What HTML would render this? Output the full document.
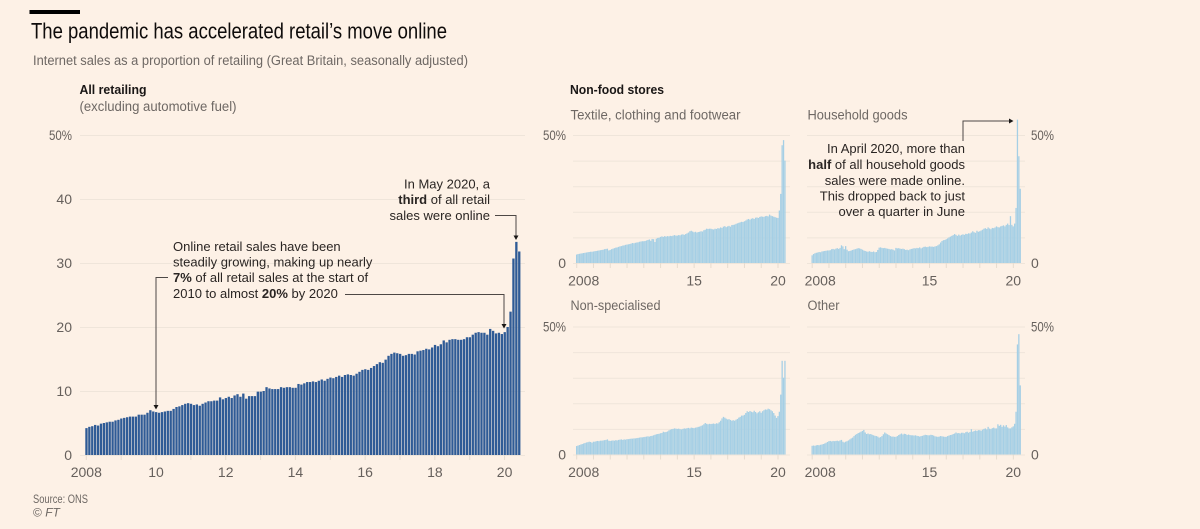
<!DOCTYPE html>
<html lang="en">
<head>
<meta charset="utf-8">
<title>The pandemic has accelerated retail's move online</title>
<style>
html,body{margin:0;padding:0;background:#fdf1e6;width:1200px;height:529px;overflow:hidden}
svg{display:block;font-family:"Liberation Sans",Arial,sans-serif}
.tick{fill:#66605c;font-size:14px}
.head{fill:#1a1716;font-size:13px;font-weight:bold}
.sub{fill:#6e6864;font-size:13.5px}
.note{fill:#2a2523;font-size:13px}
.grid{stroke:#efe5da;stroke-width:1}
.axis-tick{stroke:#e6dccf;stroke-width:1}
.leader{stroke:#4d4845;stroke-width:1;fill:none}
</style>
</head>
<body>
<svg id="chart" width="1200" height="529" viewBox="0 0 1200 529" xmlns="http://www.w3.org/2000/svg">
  <rect x="29.5" y="10" width="50.5" height="4" fill="#000"/>
  <text x="31" y="38.5" font-size="22.5" fill="#0f0c0b" textLength="416" lengthAdjust="spacingAndGlyphs">The pandemic has accelerated retail’s move online</text>
  <text x="33" y="65" font-size="13.5" fill="#6e6864" textLength="435" lengthAdjust="spacingAndGlyphs">Internet sales as a proportion of retailing (Great Britain, seasonally adjusted)</text>

  <text class="head" x="79.5" y="94" textLength="67" lengthAdjust="spacingAndGlyphs">All retailing</text>
  <text class="sub" x="79.5" y="111" textLength="157" lengthAdjust="spacingAndGlyphs">(excluding automotive fuel)</text>
  <text class="head" x="570" y="94" textLength="94" lengthAdjust="spacingAndGlyphs">Non-food stores</text>
  <text class="sub" x="570.5" y="119.5" textLength="170" lengthAdjust="spacingAndGlyphs">Textile, clothing and footwear</text>
  <text class="sub" x="807.5" y="119.5" textLength="100" lengthAdjust="spacingAndGlyphs">Household goods</text>
  <text class="sub" x="570.5" y="310" textLength="90" lengthAdjust="spacingAndGlyphs">Non-specialised</text>
  <text class="sub" x="807.5" y="310" textLength="32" lengthAdjust="spacingAndGlyphs">Other</text>

  <g id="plots"></g>

  <g>
    <text class="note" text-anchor="end" x="490" y="188.5">In May 2020, a</text>
    <text class="note" text-anchor="end" x="490" y="204"><tspan font-weight="bold">third</tspan> of all retail</text>
    <text class="note" text-anchor="end" x="490" y="220">sales were online</text>
    <path class="leader" d="M495 215.5H516V236"/>
    <path d="M513.5 235.5h5l-2.5 4.5z" fill="#1a1716"/>
  </g>
  <g>
    <text class="note" x="173" y="251">Online retail sales have been</text>
    <text class="note" x="173" y="266.500">steadily growing, making up nearly</text>
    <text class="note" x="173" y="282"><tspan font-weight="bold">7%</tspan> of all retail sales at the start of</text>
    <text class="note" x="173" y="298">2010 to almost <tspan font-weight="bold">20%</tspan> by 2020</text>
    <path class="leader" d="M168 277.500H156V405"/>
    <path d="M153.500 405h5l-2.500 4.500z" fill="#1a1716"/>
    <path class="leader" d="M345 294.500H504V324"/>
    <path d="M501.500 324h5l-2.500 4.500z" fill="#1a1716"/>
  </g>
  <g>
    <text class="note" text-anchor="end" x="965" y="153">In April 2020, more than</text>
    <text class="note" text-anchor="end" x="965" y="169"><tspan font-weight="bold">half</tspan> of all household goods</text>
    <text class="note" text-anchor="end" x="965" y="185">sales were made online.</text>
    <text class="note" text-anchor="end" x="965" y="200.500">This dropped back to just</text>
    <text class="note" text-anchor="end" x="965" y="216">over a quarter in June</text>
    <path class="leader" d="M963 141V121H1009"/>
    <path d="M1009 118.500v5l4.500-2.500z" fill="#1a1716"/>
  </g>

  <text x="33" y="503" font-size="12" fill="#6e6864" textLength="55" lengthAdjust="spacingAndGlyphs">Source: ONS</text>
  <text x="33" y="516.500" font-size="12" fill="#6e6864">© <tspan font-style="italic">FT</tspan></text>
</svg>
<script>
// Monthly values, Jan 2008 to Jun 2020 (% of retail sales made online)
const allRetailing = [
4.2,4.4,4.5,4.7,4.6,4.9,5.0,5.1,5.2,5.2,5.4,5.5,
5.7,5.8,5.9,6.0,6.0,6.0,6.3,6.3,6.3,6.6,7.0,6.8,
6.7,6.6,6.7,6.8,6.9,6.9,7.2,7.5,7.6,7.8,8.0,8.1,
8.0,7.8,7.9,7.7,8.0,8.2,8.4,8.4,8.5,8.5,9.0,8.7,
8.9,9.1,8.9,9.3,9.5,9.1,9.6,8.8,9.2,9.2,9.2,9.9,
9.9,10.0,10.6,10.4,10.3,10.3,10.3,10.6,10.5,10.6,10.6,10.5,
10.5,11.1,11.0,11.2,11.4,11.4,11.5,11.4,11.6,11.8,11.6,11.9,
12.1,12.0,12.2,12.4,12.2,12.5,12.6,12.5,12.4,12.7,13.0,13.3,
13.4,13.3,13.6,13.9,14.2,14.5,14.4,14.9,15.5,15.8,16.0,15.9,
15.8,15.5,15.6,15.8,15.8,15.7,16.2,16.3,16.4,16.6,16.5,16.8,
17.2,17.0,17.3,17.9,17.6,18.0,18.1,18.1,18.0,18.0,18.1,18.4,
18.4,18.8,19.1,19.2,19.1,19.1,18.8,19.7,19.4,19.0,19.1,18.9,
19.2,20.0,22.4,30.7,33.3,31.8];
const textile = [
3.3,3.5,3.6,3.7,3.8,3.9,4.0,4.1,4.2,4.3,4.4,4.4,
4.5,4.6,4.7,4.8,4.9,5.0,5.1,5.2,5.4,5.5,5.6,4.9,
5.1,5.4,5.6,5.8,6.0,6.1,6.3,6.5,6.6,6.8,6.9,7.1,
7.2,7.3,7.4,7.6,7.8,7.7,7.9,8.0,8.1,8.3,8.4,8.5,
8.5,8.6,8.8,9.0,9.2,8.7,9.4,9.3,8.2,9.5,9.8,9.9,
10.2,10.4,10.2,10.5,10.3,10.5,10.4,10.6,10.5,10.7,10.9,10.7,
10.7,10.9,10.8,11.1,11.2,11.0,11.3,11.6,11.9,12.4,12.6,12.3,
12.0,12.2,11.9,12.1,12.2,12.4,12.3,12.8,13.0,13.4,13.3,13.4,
13.4,13.2,13.1,13.4,13.3,13.6,13.5,13.9,13.7,14.2,14.4,14.0,
14.3,14.5,14.2,14.8,14.9,15.0,15.3,15.5,15.7,15.9,16.1,16.0,
16.3,16.6,17.0,17.2,16.9,17.3,17.5,17.2,17.7,17.8,17.6,18.0,
18.2,18.1,18.0,18.3,18.4,18.2,18.9,18.5,18.3,18.1,17.9,17.7,
17.6,20.5,27.0,46.0,48.0,40.0];
const household = [
3.0,3.5,3.8,4.0,4.1,4.3,4.2,4.5,4.6,4.7,4.8,4.9,
4.9,5.0,5.4,5.5,5.3,5.6,5.8,5.5,5.9,6.9,6.5,5.4,
6.6,5.2,4.6,4.7,4.9,5.1,5.3,5.4,5.6,5.8,5.7,5.5,
5.2,4.9,4.7,4.5,4.4,4.6,4.4,4.3,4.5,4.2,4.3,5.1,
6.0,6.1,5.9,5.8,5.9,5.7,5.6,5.5,5.3,5.4,5.2,4.9,
5.9,5.7,5.8,5.6,5.5,5.6,5.4,5.1,5.2,5.0,5.3,5.5,
5.6,5.8,5.7,5.9,5.8,6.1,5.7,6.0,6.3,6.4,6.2,6.3,
6.5,6.4,6.4,6.3,6.5,6.6,6.9,7.3,8.0,8.6,8.9,9.0,
9.3,9.6,10.0,10.3,10.6,10.9,11.3,11.0,10.6,11.1,10.7,11.0,
11.2,11.0,11.4,11.3,11.6,11.5,11.9,12.4,12.0,11.8,12.6,12.2,
12.4,12.7,13.0,13.4,13.6,13.3,13.9,13.5,13.2,13.7,13.6,13.9,
14.3,14.0,13.9,14.3,14.5,14.7,14.3,14.9,15.4,14.8,18.3,14.9,
14.3,15.4,21.5,56.0,41.7,29.0];
const nonSpecialised = [
3.3,3.5,3.7,3.9,4.1,4.3,4.5,4.7,4.8,5.0,4.9,4.6,
5.0,5.0,5.2,5.3,5.2,5.4,5.4,5.5,5.6,5.7,5.9,5.4,
5.3,5.4,5.5,5.4,5.6,5.5,5.7,5.8,5.9,5.7,5.9,5.8,
6.0,6.0,6.1,6.2,6.2,6.3,6.3,6.4,6.5,6.6,6.7,6.7,
6.8,6.9,7.0,7.1,7.0,7.2,7.3,7.5,7.7,7.9,8.0,8.1,
8.3,8.4,8.9,8.7,8.8,9.0,9.4,9.7,9.9,10.0,10.2,10.1,
10.0,10.1,9.9,9.8,10.0,10.2,10.1,10.3,10.4,10.2,10.5,10.4,
10.3,10.5,10.6,10.8,10.9,11.2,11.4,11.8,12.3,12.0,11.8,12.0,
11.9,12.0,12.1,11.9,12.2,12.1,12.6,13.2,14.1,14.7,14.4,14.0,
13.7,13.8,13.5,13.2,13.4,13.2,13.6,13.9,14.4,14.7,15.2,15.2,
15.5,16.2,16.9,16.6,17.0,16.7,16.5,17.1,16.6,16.1,16.5,16.9,
16.3,16.9,17.3,17.6,17.5,17.9,17.7,17.3,16.9,16.2,15.2,14.3,
15.0,16.7,23.4,36.6,30.0,36.6];
const otherStores = [
3.4,3.5,3.4,3.6,3.7,3.6,3.8,3.9,4.1,4.3,4.6,4.9,
5.2,5.3,5.1,5.3,5.2,5.3,5.4,5.2,5.5,5.7,5.0,4.7,
5.0,5.2,5.5,5.9,6.3,6.6,7.2,7.7,8.0,8.4,8.6,8.9,
9.2,9.6,8.6,8.0,8.2,7.9,8.0,7.7,7.5,7.3,7.2,7.0,
6.6,6.8,7.2,7.9,8.6,8.2,7.9,7.6,7.2,7.0,7.0,6.9,
6.9,7.2,7.6,7.9,8.2,7.8,8.1,8.0,7.6,7.8,7.6,7.5,
7.5,7.4,7.5,7.3,7.2,7.0,7.2,7.3,7.5,7.7,7.6,7.5,
7.5,7.7,7.6,7.4,7.1,7.0,6.9,7.0,7.2,7.1,7.0,6.9,
6.9,7.2,7.4,7.6,7.7,8.0,8.2,8.6,8.3,8.4,8.2,8.5,
8.5,8.3,8.7,8.9,8.5,8.8,9.9,8.9,9.2,9.4,9.2,9.5,
9.5,9.3,9.7,10.0,10.2,9.8,10.8,10.1,9.9,10.3,10.5,10.2,
10.2,11.8,11.2,11.6,10.8,11.4,10.9,11.5,10.6,10.2,10.2,10.6,
11.0,12.0,16.7,43.0,47.0,27.0];
const yTicksMain = [0,10,20,30,40,50];
const yGridSmall = [0,10,20,30,40,50];
const yLabelsSmall = [0,50];
const xTickYears = [2008,2009,2010,2011,2012,2013,2014,2015,2016,2017,2018,2019,2020];
const xLabelYearsMain = [2008,2010,2012,2014,2016,2018,2020];
const xLabelYearsSmall = [2008,2015,2020];

const svgNS = 'http://www.w3.org/2000/svg';
const plots = document.getElementById('plots');

function linear(d0, d1, r0, r1) {
  return function (v) { return r0 + (v - d0) * (r1 - r0) / (d1 - d0); };
}
function make(tag, attrs, parent) {
  const el = document.createElementNS(svgNS, tag);
  for (const k in attrs) el.setAttribute(k, attrs[k]);
  parent.appendChild(el);
  return el;
}
function yearLabel(y, i) {
  return i === 0 ? String(y) : String(y).slice(2);
}
function drawPanel(cfg) {
  const g = make('g', {}, plots);
  
  
  // x scale maps months since Jan 2008 to the bar's left edge
  const x = linear(0, 150, cfg.xStart, cfg.xEnd);
  const y = linear(0, 50, cfg.yZero, cfg.yTop);
  const pitch = x(1) - x(0);

  cfg.grid.forEach(function (t) {
    const line = make('line', { x1: cfg.gridL, x2: cfg.gridR, y1: y(t) + 0.5, y2: y(t) + 0.5, class: 'grid' }, g);
    
    
  });
  xTickYears.forEach(function (yr) {
    const tx = x((yr - 2008) * 12) + cfg.tickOffset;
    const tick = make('line', { x1: tx, x2: tx, y1: y(0), y2: y(0) + 5, class: 'axis-tick' }, g);
    
    
  });
  cfg.values.forEach(function (v, i) {
    const bar = make('rect', {
      x: x(i), y: y(v), width: pitch * cfg.barRatio, height: y(0) - y(v), fill: cfg.color
    }, g);
    
    
  });
  cfg.xLabels.forEach(function (yr, i) {
    const cx = x((yr - 2008) * 12) + cfg.tickOffset + (i === 0 ? cfg.firstLabelShift : 0);
    const t = make('text', { x: cx, y: cfg.xLabelY, class: 'tick', 'text-anchor': 'middle' }, g);
    t.textContent = yearLabel(yr, i);
    
    
  });
  cfg.yLabels.forEach(function (v) {
    const t = make('text', { x: cfg.yLabelX, y: y(v) + 5, class: 'tick', 'text-anchor': cfg.yAnchor }, g);
    t.textContent = v === 50 ? '50%' : String(v);
    if (v === 50) {
      t.setAttribute('textLength', '23');
      t.setAttribute('lengthAdjust', 'spacingAndGlyphs');
    }
    
    
  });
}

drawPanel({ name: 'all-retailing-panel', values: allRetailing, xStart: 85.3, xEnd: 521, yZero: 455, yTop: 135,
  gridL: 80, gridR: 525, grid: yTicksMain, yLabels: yTicksMain, yLabelX: 72, yAnchor: 'end', color: '#2f5b96', barRatio: 0.8,
  xLabels: xLabelYearsMain, xLabelY: 477, tickOffset: 1, firstLabelShift: 0 });
drawPanel({ name: 'textile-panel', values: textile, xStart: 576, xEnd: 785.7, yZero: 263, yTop: 135,
  gridL: 573, gridR: 790, grid: yGridSmall, yLabels: yLabelsSmall, yLabelX: 566, yAnchor: 'end', color: '#a5cfe5', barRatio: 0.92,
  xLabels: xLabelYearsSmall, xLabelY: 285.500, tickOffset: 0.7, firstLabelShift: 7 });
drawPanel({ name: 'household-panel', values: household, xStart: 811.5, xEnd: 1021, yZero: 263, yTop: 135,
  gridL: 807, gridR: 1025, grid: yGridSmall, yLabels: yLabelsSmall, yLabelX: 1031, yAnchor: 'start', color: '#a5cfe5', barRatio: 0.92,
  xLabels: xLabelYearsSmall, xLabelY: 285.500, tickOffset: 0.7, firstLabelShift: 8 });
drawPanel({ name: 'non-specialised-panel', values: nonSpecialised, xStart: 576, xEnd: 785.7, yZero: 454.500, yTop: 326.500,
  gridL: 573, gridR: 790, grid: yGridSmall, yLabels: yLabelsSmall, yLabelX: 566, yAnchor: 'end', color: '#a5cfe5', barRatio: 0.92,
  xLabels: xLabelYearsSmall, xLabelY: 477, tickOffset: 0.7, firstLabelShift: 7 });
drawPanel({ name: 'other-panel', values: otherStores, xStart: 811.5, xEnd: 1021, yZero: 454.500, yTop: 326.500,
  gridL: 807, gridR: 1025, grid: yGridSmall, yLabels: yLabelsSmall, yLabelX: 1031, yAnchor: 'start', color: '#a5cfe5', barRatio: 0.92,
  xLabels: xLabelYearsSmall, xLabelY: 477, tickOffset: 0.7, firstLabelShift: 8 });
</script>
</body>
</html>
